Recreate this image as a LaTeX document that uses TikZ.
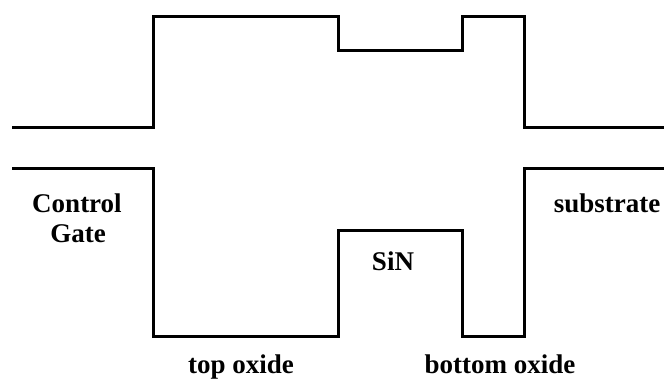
\documentclass[tikz,border=0pt]{standalone}
\usepackage{fontspec}
\setmainfont{Liberation Serif}
\begin{document}
\begin{tikzpicture}[x=1pt,y=-1pt,
  band/.style={line width=3pt,line join=miter,line cap=butt},
  lbl/.style={font=\fontsize{27}{30}\selectfont\bfseries,anchor=base,inner sep=0pt}]
\useasboundingbox (0,0) rectangle (664,381);
% conduction band (upper)
\draw[band] (12,127) -- (153,127) -- (153,16) -- (338,16) -- (338,50) -- (462,50) -- (462,16) -- (524,16) -- (524,127) -- (664,127);
% valence band (lower)
\draw[band] (12,168) -- (153,168) -- (153,336) -- (338,336) -- (338,230) -- (462,230) -- (462,336) -- (524,336) -- (524,168) -- (664,168);
\node[lbl] (cg1) at (77,212) {Control};
\node[lbl] (cg2) at (78,242) {Gate};
\node[lbl] (sin) at (393,270) {SiN};
\node[lbl] (sub) at (607,212) {substrate};
\node[lbl] (tox) at (241,373) {top oxide};
\node[lbl] (box) at (500,373) {bottom oxide};
\end{tikzpicture}
\end{document}
